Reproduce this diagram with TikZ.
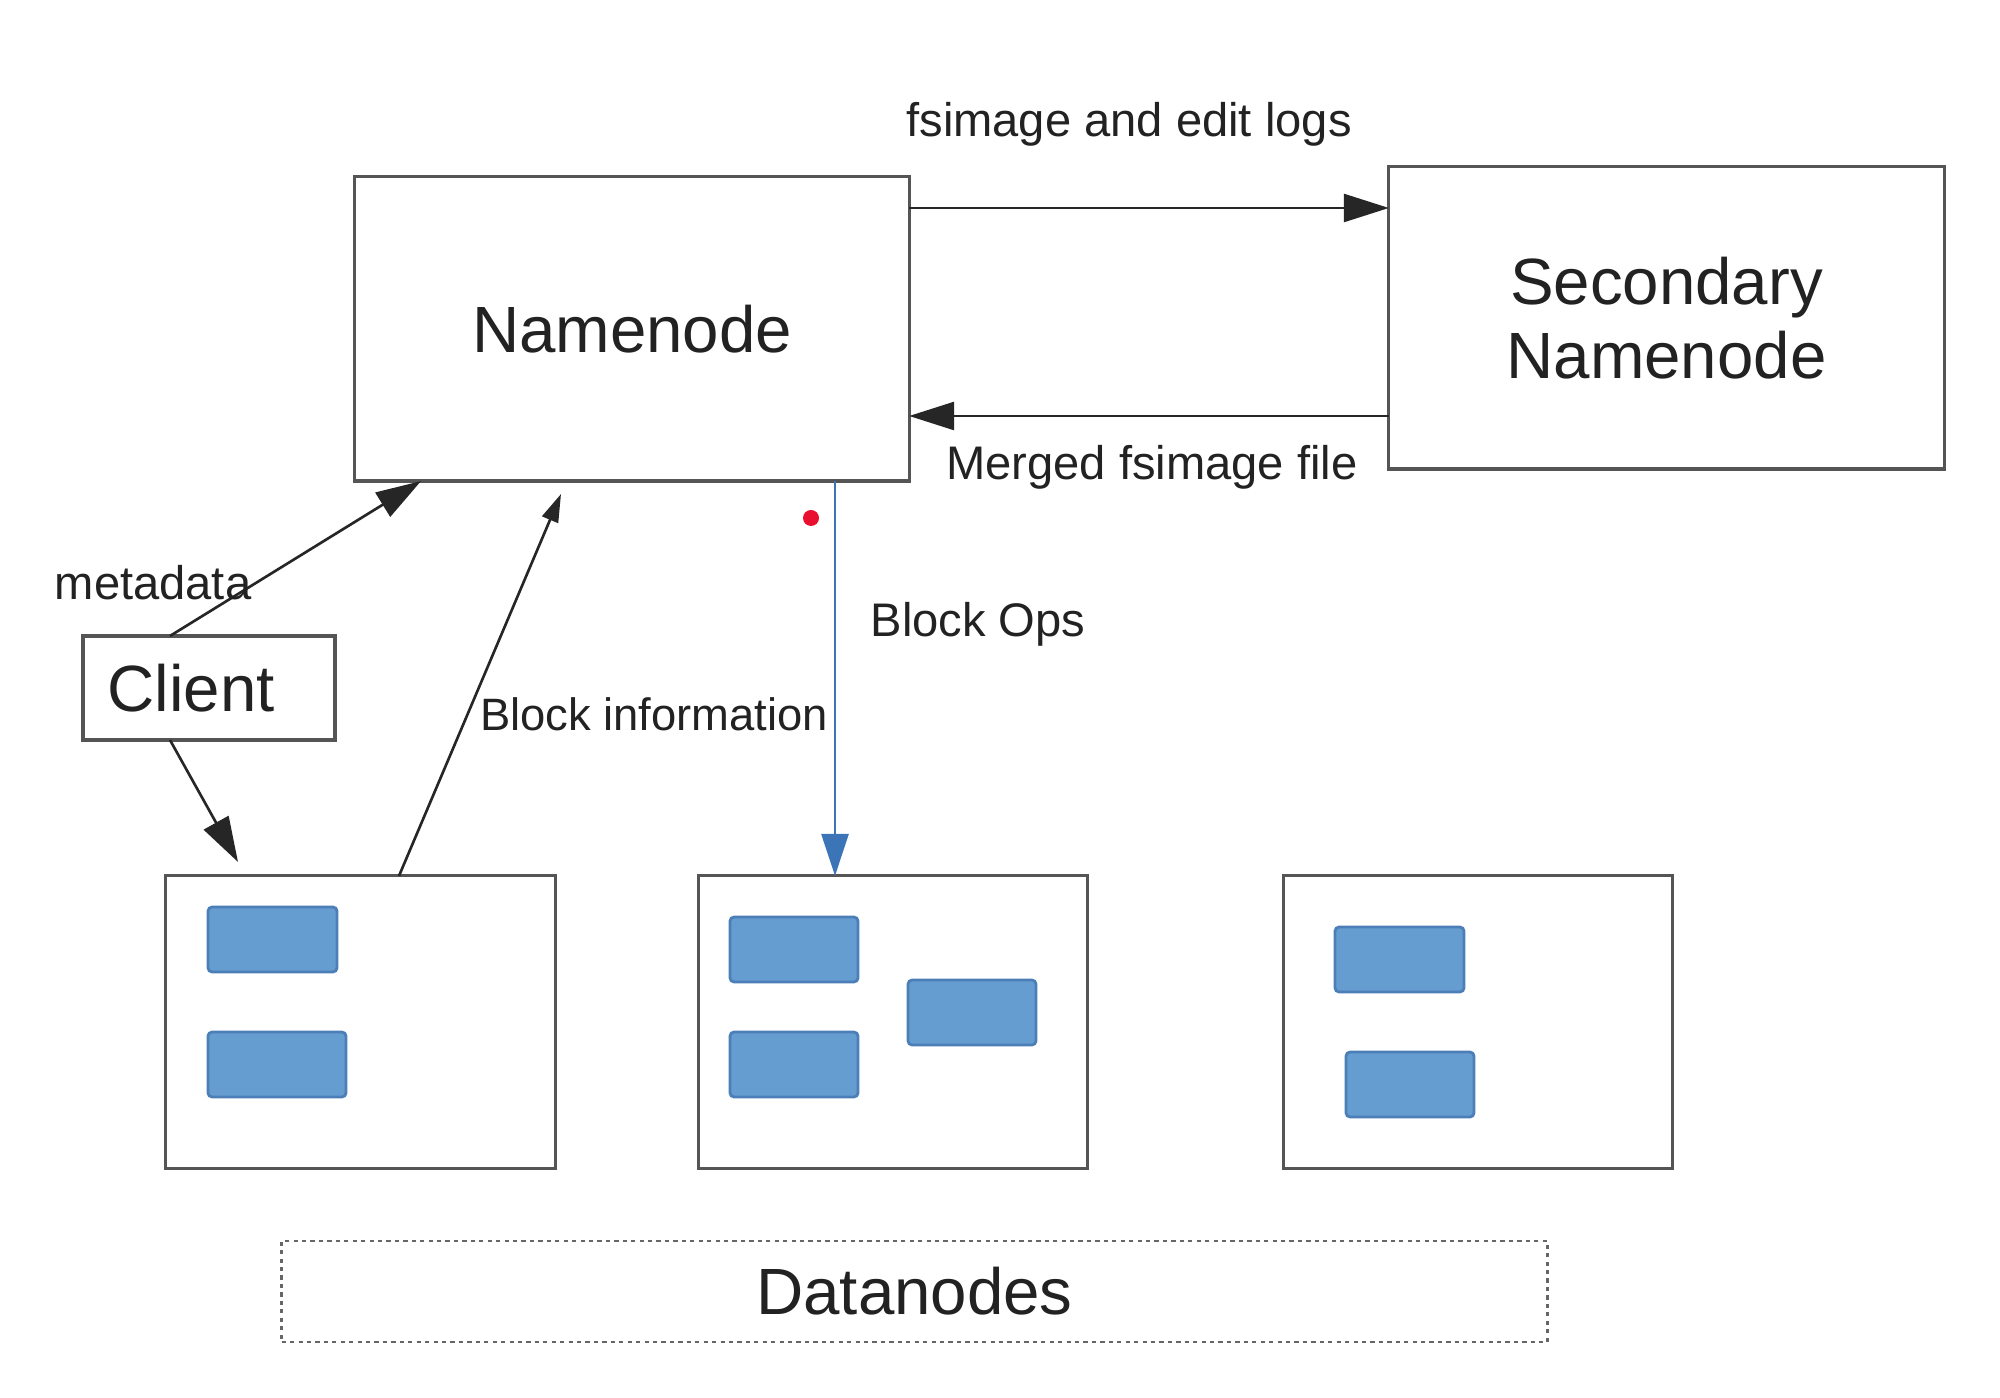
\documentclass[tikz,border=0pt]{standalone}
\usepackage{fontspec}
\setmainfont{Liberation Sans}
\usetikzlibrary{arrows.meta}
\definecolor{boxline}{HTML}{555555}
\definecolor{blockfill}{HTML}{669DD1}
\definecolor{blockline}{HTML}{4C7FB8}
\definecolor{opsblue}{HTML}{3C74B8}
\definecolor{txt}{HTML}{222222}
\definecolor{dotred}{HTML}{E8102E}
\begin{document}
\begin{tikzpicture}[x=0.01cm,y=-0.01cm,
  box/.style={draw=boxline,line width=0.9pt,fill=white,inner sep=0pt,outer sep=0pt},
  blk/.style={draw=blockline,line width=0.8pt,fill=blockfill,rounded corners=1.2pt,inner sep=0pt,minimum width=1.28cm,minimum height=0.65cm},
  big/.style={text=txt,font=\fontsize{18.6}{21}\selectfont,inner sep=0pt},
  lbl/.style={text=txt,font=\fontsize{13.4}{16}\selectfont,inner sep=0pt},
  arr/.style={draw=black!85,line width=0.75pt,-{Triangle[length=0.45cm,width=0.28cm]}},
  arrs/.style={draw=black!85,line width=0.75pt,-{Triangle[length=0.28cm,width=0.17cm]}}]
\fill[white] (0,0) rectangle (2000,1398);
\useasboundingbox (0,0) rectangle (2000,1398);

% main boxes
\node[box,minimum width=5.54cm,minimum height=3.04cm] (nn) at (632,329) {};
\node[big] (nntext) at (632,329) {Namenode};
\node[box,minimum width=5.55cm,minimum height=3.02cm] (sn) at (1666.5,318) {};
\node[big,align=center] (sntext) at (1666.5,318) {Secondary\\Namenode};
\node[box,minimum width=2.52cm,minimum height=1.04cm] (client) at (209,688) {};
\node[big] (clienttext) at (191,688) {Client};

% datanodes
\node[box,minimum width=3.89cm,minimum height=2.92cm] (dn1) at (360.5,1022) {};
\node[box,minimum width=3.88cm,minimum height=2.92cm] (dn2) at (893,1022) {};
\node[box,minimum width=3.88cm,minimum height=2.92cm] (dn3) at (1478,1022) {};

\node[blk,minimum width=1.29cm] (b1a) at (272.5,939.5) {};
\node[blk,minimum width=1.38cm] (b1b) at (277,1064.5) {};
\node[blk] (b2a) at (794,949.5) {};
\node[blk] (b2b) at (794,1064.5) {};
\node[blk] (b2c) at (972,1012.5) {};
\node[blk,minimum width=1.29cm] (b3a) at (1399.5,959.5) {};
\node[blk] (b3b) at (1410,1084.5) {};

\node[draw=black!60,line width=0.7pt,dash pattern=on 1.2pt off 1.2pt,inner sep=0pt,minimum width=12.65cm,minimum height=1.01cm] (dngroup) at (914.5,1291.5) {};
\node[big] (dntext) at (914.5,1291.5) {Datanodes};

% helper coordinates
\coordinate (ytop) at (0,208);
\coordinate (ybot) at (0,416);
\coordinate (xmeta) at (421,0);
\coordinate (xcl) at (170,0);
\coordinate (clend) at (238,862);
\coordinate (xbi) at (399,0);
\coordinate (biend) at (561,494);
\coordinate (xops) at (835,0);

% connectors
\draw[arr] (nn.east |- ytop) -- (sn.west |- ytop);
\draw[arr] (sn.west |- ybot) -- (nn.east |- ybot);
\draw[arr] (client.north -| xcl) -- (nn.south -| xmeta);
\draw[arr] (client.south -| xcl) -- (clend);
\draw[arrs] (dn1.north -| xbi) -- (biend);
\draw[draw=opsblue,line width=0.75pt,-{Triangle[length=0.42cm,width=0.27cm]}] (nn.south -| xops) -- (dn2.north -| xops);

% labels
\node[lbl] (l1) at (1129,124) {fsimage and edit logs};
\node[lbl] (l2) at (1152,467) {Merged fsimage file};
\node[lbl] (l3) at (153,583) {metadata};
\node[lbl,font=\fontsize{12.9}{16}\selectfont] (l4) at (654,714) {Block information};
\node[lbl] (l5) at (978,624) {Block Ops};

\fill[dotred] (811,518) circle[radius=0.08cm];
\end{tikzpicture}
\end{document}
